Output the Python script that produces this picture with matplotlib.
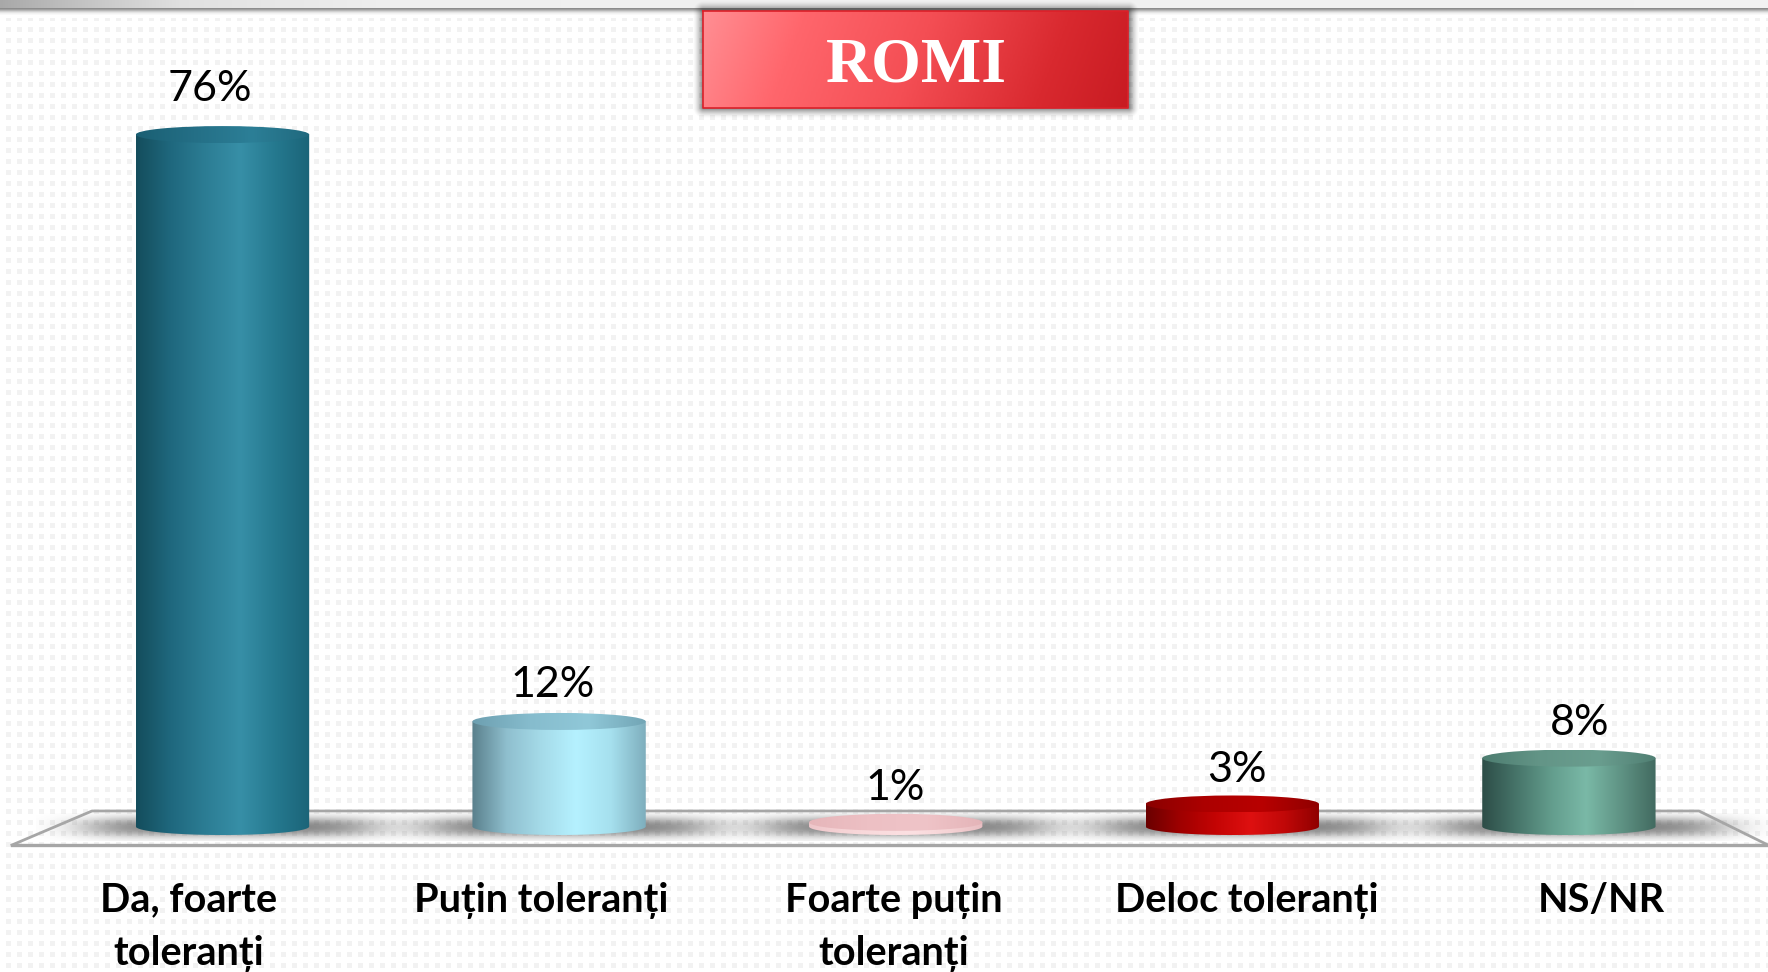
import numpy as np
import matplotlib
matplotlib.use("Agg")
import matplotlib.pyplot as plt
from matplotlib.colors import LinearSegmentedColormap
from matplotlib.patches import Ellipse, PathPatch
from matplotlib.path import Path

categories = ["Da, foarte\ntoleranți", "Puțin toleranți", "Foarte puțin\ntoleranți",
              "Deloc toleranți", "NS/NR"]
values = [76, 12, 1, 3, 8]
value_labels = ["76%", "12%", "1%", "3%", "8%"]
title = "ROMI"

side_colors = [
    ["#144d5c", "#1f687e", "#2c7d94", "#378fa7", "#25798f", "#1b6478"],
    ["#5a808c", "#8fbfce", "#a5dbe9", "#b5f1ff", "#a6e0ee", "#7eaebd"],
    ["#eec6ca", "#f6d4d6", "#fadcde", "#fce0e2", "#f6d4d6", "#e8bec2"],
    ["#6a0000", "#a00000", "#c40404", "#de1010", "#c00808", "#8e0000"],
    ["#2d4d47", "#47756a", "#639d8d", "#7ab9a7", "#5f9384", "#426a60"],
]
top_colors = [
    ["#1a5f73", "#246f86", "#2c7f97", "#20697e"],
    ["#6d9fb0", "#86bccd", "#90c8d8", "#72a5b5"],
    ["#e6b6ba", "#edc0c4", "#efc4c8", "#e4b4b8"],
    ["#8a0000", "#ac0000", "#b80000", "#8e0000"],
    ["#4d7d70", "#639587", "#6a9e8f", "#507f73"],
]

W, H = 1768, 972
PX_PER_PCT = 9.17
ZERO_Y = 831.5
X0 = 222.5
STEP = 336.6
BAR_W = 0.515
RY = 8.5 / PX_PER_PCT
BASE = 5 / PX_PER_PCT

fig = plt.figure(figsize=(W / 100, H / 100), dpi=100)

# page background, floor and banner live in pixel coordinates
bg = fig.add_axes([0, 0, 1, 1], zorder=0)
bg.set_axis_off()

page = np.ones((H, W, 3))
yy, xx = np.mgrid[0:H, 0:W]
dots = ((xx - 6) % 11 < 5) & ((yy - 28) % 11 < 5) & (yy > 18)
page[dots] = 0.95
top_grey = np.interp(np.arange(W), [0, 60, 180, 400, W], [0.66, 0.74, 0.88, 0.94, 0.95])
page[:9] = top_grey[:, None]
for i, shade in enumerate([0.55, 0.62, 0.72, 0.82, 0.9, 0.95, 0.98]):
    page[9 + i] = shade
bg.imshow(page, extent=(0, W, H, 0), aspect="auto", interpolation="nearest", zorder=0)

# soft shadows on the floor
for i in range(len(values)):
    cx = X0 + STEP * i + 8
    gx = np.linspace(-1.3, 1.3, 240)
    gy = np.linspace(-1.4, 1.4, 40)
    mx, my = np.meshgrid(gx, gy)
    alpha = np.exp(-(np.abs(mx) ** 5) - (np.abs(my) ** 2.2)) * 0.68
    shade = np.zeros((40, 240, 4))
    shade[..., :3] = 0.3
    shade[..., 3] = alpha
    bg.imshow(shade, extent=(cx - 195, cx + 195, 841, 813), aspect="auto", zorder=1)

bg.plot([12, W], [845, 845], color="#a6a6a6", lw=2.4, zorder=2)
bg.plot([12, 92, 1699, 1768], [845, 811, 811, 845], color="#a6a6a6", lw=2.0, zorder=2)

# banner
bx0, bx1, by0, by1 = 703, 1128, 11, 108
sh = np.zeros((130, 450, 4))
sy, sx = np.mgrid[0:130, 0:450]
dx = np.maximum(np.maximum(12 - sx, sx - 437), 0)
dy = np.maximum(np.maximum(15 - sy, sy - 114), 0)
sh[..., 3] = np.clip(1 - np.hypot(dx, dy) / 11, 0, 1) ** 1.6 * 0.5
bg.imshow(sh, extent=(bx0 - 12, bx1 + 13, by1 + 15, by0 - 15), aspect="auto", zorder=3)
banner_cmap = LinearSegmentedColormap.from_list(
    "banner", [(0, "#ff8e93"), (0.22, "#ff666c"), (0.5, "#f44e54"), (0.8, "#d9292f"), (1, "#c81b22")])
ty, tx = np.mgrid[0:1:60j, 0:1:260j]
bg.imshow(tx * 0.92 + ty * 0.08, cmap=banner_cmap, extent=(bx0, bx1, by1, by0), aspect="auto", zorder=4)
bg.plot([bx0, bx1, bx1, bx0, bx0], [by0, by0, by1, by1, by0], color="#dc2029", lw=1.2, zorder=5)
bg.text((bx0 + bx1) / 2 + 0.5, 66, title, color="white", fontsize=46, fontweight="bold",
        family="Liberation Serif", ha="center", va="center", zorder=6)
bg.set_xlim(0, W)
bg.set_ylim(H, 0)

# the chart itself
ax = fig.add_axes([0, 0, 1, 1], zorder=1)
ax.patch.set_alpha(0)
ax.set_axis_off()

label_dx = [-13, -7, -1, 5, 11]
label_dy = [46, 36, 34, 34, 35]
cat_dx = [-34, -18, -2, 14, 32]

for i, v in enumerate(values):
    xl, xr = i - BAR_W / 2, i + BAR_W / 2
    t = np.linspace(np.pi, 2 * np.pi, 60)
    low_x = i + BAR_W / 2 * np.cos(t)
    low_y = BASE + RY * np.sin(t)
    vx = np.concatenate([[xl], low_x, [xr, xl]])
    vy = np.concatenate([[v], low_y, [v, v]])
    body = PathPatch(Path(np.column_stack([vx, vy])), fc="none", ec="none")
    ax.add_patch(body)
    cmap = LinearSegmentedColormap.from_list("side%d" % i, side_colors[i])
    grad = np.linspace(0, 1, 256)[None, :]
    im = ax.imshow(grad, cmap=cmap, extent=(xl, xr, BASE - RY, v), aspect="auto", zorder=2)
    im.set_clip_path(body)

    cap = Ellipse((i, v), BAR_W, 2 * RY, fc="none", ec="none")
    ax.add_patch(cap)
    cmap = LinearSegmentedColormap.from_list("cap%d" % i, top_colors[i])
    im = ax.imshow(grad, cmap=cmap, extent=(xl, xr, v - RY, v + RY), aspect="auto", zorder=3)
    im.set_clip_path(cap)

    ax.annotate(value_labels[i], xy=(i, v), xytext=(label_dx[i], label_dy[i]),
                textcoords="offset pixels", ha="center", va="center", fontsize=31,
                family="Lato", color="black", zorder=5)
    ax.annotate(categories[i], xy=(i, 0), xytext=(cat_dx[i], -50),
                textcoords="offset pixels", ha="center", va="top", fontsize=28.5,
                family="Lato", fontweight="bold", color="black", linespacing=1.55,
                annotation_clip=False, zorder=5)

ax.set_xlim((0 - X0) / STEP, (W - X0) / STEP)
ax.set_ylim((ZERO_Y - H) / PX_PER_PCT, ZERO_Y / PX_PER_PCT)

fig.savefig("out.png", dpi=100)
